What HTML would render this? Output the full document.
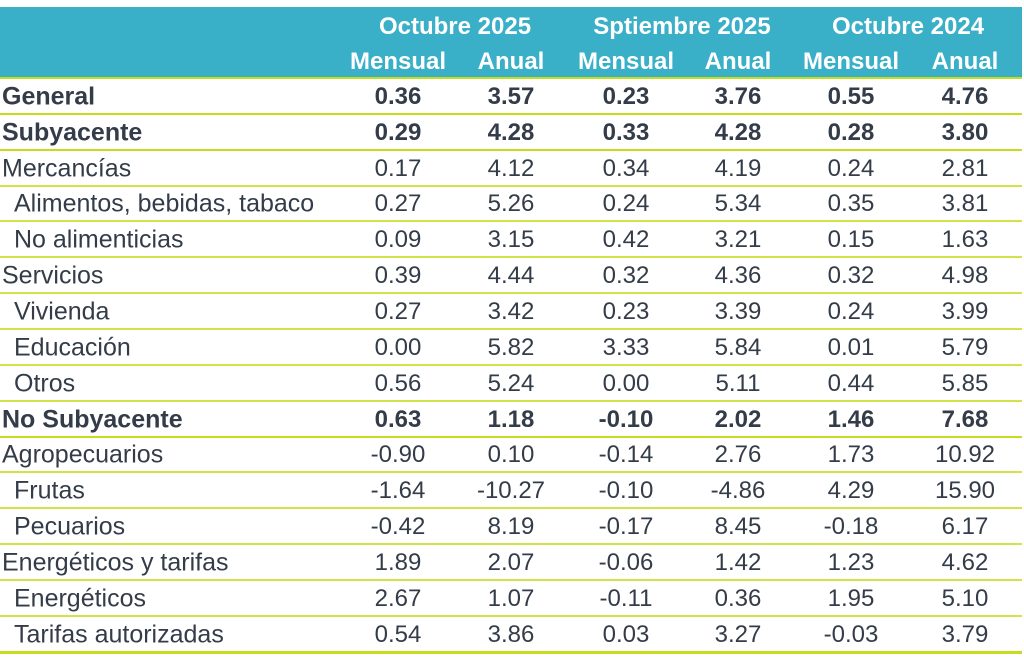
<!DOCTYPE html>
<html><head><meta charset="utf-8"><style>
body{margin:0;width:1024px;height:668px;background:#fff;position:relative;overflow:hidden;font-family:"Liberation Sans",sans-serif;color:#333c48}
.hdr{position:absolute;left:0;top:7px;width:1022px;height:71px;background:#3aafc8}
.h{position:absolute;color:#fff;font-weight:bold;font-size:24px;transform:translate(-50%,-50%);white-space:nowrap}
.c{position:absolute;font-size:24px;transform:translate(-50%,-50%);white-space:nowrap}
.l{position:absolute;font-size:25px;transform:translateY(-50%);white-space:nowrap}
.ln{position:absolute;left:0;width:1022px;background:#c8dc1e}
</style></head><body>
<div class="hdr"></div>
<div class="h" style="left:455px;top:27px">Octubre 2025</div>
<div class="h" style="left:682px;top:27px">Sptiembre 2025</div>
<div class="h" style="left:908px;top:27px">Octubre 2024</div>
<div id="tbl"></div>
<script>
const labels=["General","Subyacente","Mercancías","Alimentos, bebidas, tabaco","No alimenticias","Servicios","Vivienda","Educación","Otros","No Subyacente","Agropecuarios","Frutas","Pecuarios","Energéticos y tarifas","Energéticos","Tarifas autorizadas"];
const indent=[0,0,0,1,1,0,1,1,1,0,0,1,1,0,1,1];
const bold=[1,1,0,0,0,0,0,0,0,1,0,0,0,0,0,0];
const oct25M=["0.36","0.29","0.17","0.27","0.09","0.39","0.27","0.00","0.56","0.63","-0.90","-1.64","-0.42","1.89","2.67","0.54"];
const oct25A=["3.57","4.28","4.12","5.26","3.15","4.44","3.42","5.82","5.24","1.18","0.10","-10.27","8.19","2.07","1.07","3.86"];
const sep25M=["0.23","0.33","0.34","0.24","0.42","0.32","0.23","3.33","0.00","-0.10","-0.14","-0.10","-0.17","-0.06","-0.11","0.03"];
const sep25A=["3.76","4.28","4.19","5.34","3.21","4.36","3.39","5.84","5.11","2.02","2.76","-4.86","8.45","1.42","0.36","3.27"];
const oct24M=["0.55","0.28","0.24","0.35","0.15","0.32","0.24","0.01","0.44","1.46","1.73","4.29","-0.18","1.23","1.95","-0.03"];
const oct24A=["4.76","3.80","2.81","3.81","1.63","4.98","3.99","5.79","5.85","7.68","10.92","15.90","6.17","4.62","5.10","3.79"];
const colX=[398,511,626,738,851,965];
const subs=["Mensual","Anual","Mensual","Anual","Mensual","Anual"];
const cols=[oct25M,oct25A,sep25M,sep25A,oct24M,oct24A];
const root=document.getElementById('tbl');
const rowH=35.85, top0=78;
subs.forEach((s,j)=>{
  const d=document.createElement('div');d.className='h';
  d.style.left=colX[j]+'px';d.style.top='62px';d.textContent=s;
  
  
  root.appendChild(d);
});
labels.forEach((lab,i)=>{
  const y=Math.round(top0+i*rowH);
  const ln=document.createElement('div');ln.className='ln';
  const thick=(i===0||bold[i-1]);
  ln.style.top=(y-1)+'px';ln.style.height='2px';
  if(!thick)ln.style.background='#d2e34a';
  
  
  root.appendChild(ln);
  const cy=top0+i*rowH+rowH/2+1;
  const l=document.createElement('div');l.className='l';
  l.style.left=(indent[i]?14:2)+'px';l.style.top=cy+'px';
  if(bold[i])l.style.fontWeight='bold';
  l.textContent=lab;
  
  
  root.appendChild(l);
  cols.forEach((col,j)=>{
    const c=document.createElement('div');c.className='c';
    c.style.left=colX[j]+'px';c.style.top=cy+'px';
    if(bold[i])c.style.fontWeight='bold';
    c.textContent=col[i];
    
    
    root.appendChild(c);
  });
});
const b=document.createElement('div');b.className='ln';
b.style.top=Math.round(top0+labels.length*rowH-1)+'px';b.style.height='3px';


root.appendChild(b);
</script>
</body></html>
